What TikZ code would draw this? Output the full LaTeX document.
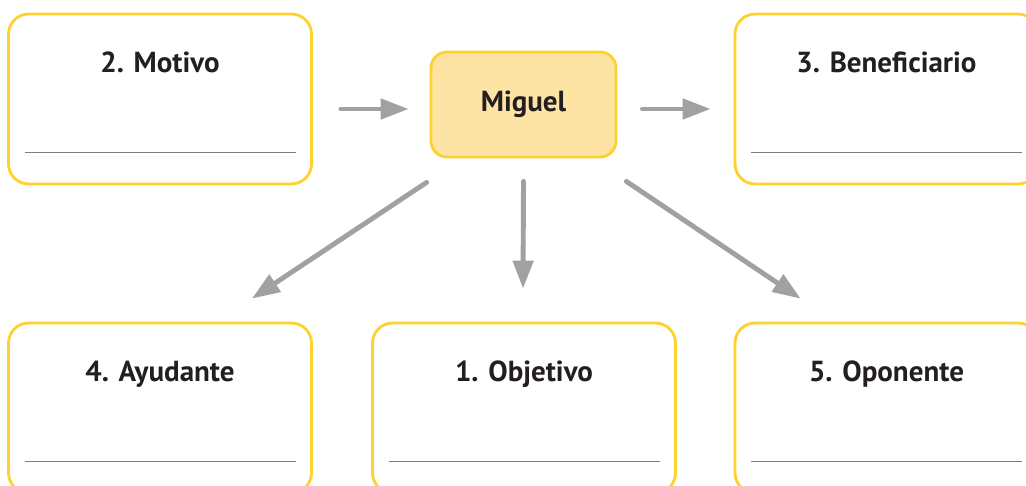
\documentclass[tikz,border=0pt]{standalone}
\usepackage{fontspec}
\setmainfont{PT Sans}
\usetikzlibrary{arrows.meta,positioning}
\definecolor{boxyellow}{HTML}{FDD22E}
\definecolor{boxfill}{HTML}{FDE3A4}
\definecolor{arrowgray}{HTML}{A1A1A4}
\definecolor{linegray}{HTML}{7F7F7F}
\definecolor{textblack}{HTML}{231F20}
\tikzset{
  roundbox/.style={draw=boxyellow, line width=1.6pt, rounded corners=0.4cm,
    minimum width=6.06cm, minimum height=3.4cm, inner sep=0pt},
  centerbox/.style={draw=boxyellow, fill=boxfill, line width=1.6pt, rounded corners=0.32cm,
    minimum width=3.7cm, minimum height=2.1cm, inner sep=0pt,
    font=\fontsize{16.5}{19}\selectfont\bfseries, text=textblack},
  boxtitle/.style={anchor=base, inner sep=0pt, font=\fontsize{16.5}{19}\selectfont\bfseries, text=textblack},
  writeline/.style={draw=linegray, line width=0.85pt},
  arr/.style={draw=arrowgray, line width=2.8pt, line cap=round,
    -{Triangle[length=0.56cm,width=0.4cm]}}
}
\begin{document}
\begin{tikzpicture}[x=0.02cm,y=-0.02cm]
      \clip (0,0) rectangle (1026,486);
      \node[roundbox] (motivo) at (160,99) {};
      \node[roundbox] (beneficiario) at (886.5,99) {};
      \node[roundbox] (ayudante) at (160,408) {};
      \node[roundbox] (objetivo) at (524,408) {};
      \node[roundbox] (oponente) at (886.5,408) {};
      \node[centerbox] (miguel) at (523.5,104.5) {Miguel};
      \node[boxtitle] (motivot) at ([shift={(0,60)}]motivo.north) {2. Motivo};
      \node[boxtitle] (beneficiariot) at ([shift={(0,60)}]beneficiario.north) {3. Beneficiario};
      \node[boxtitle] (ayudantet) at ([shift={(0,59.5)}]ayudante.north) {4. Ayudante};
      \node[boxtitle] (objetivot) at ([shift={(0,59.5)}]objetivo.north) {1. Objetivo};
      \node[boxtitle] (oponentet) at ([shift={(0,59.5)}]oponente.north) {5. Oponente};
      \foreach \b in {motivo,beneficiario,ayudante,objetivo,oponente}
        \draw[writeline] ([shift={(17.5,140)}]\b.north west) -- ([shift={(-17,140)}]\b.north east);
      \draw[arr] ([shift={(28,4.5)}]motivo.east |- miguel.west) -- ([shift={(-21,4.5)}]miguel.west);
      \draw[arr] ([shift={(25,4.5)}]miguel.east) -- ([shift={(-23,4.5)}]beneficiario.west |- miguel.east);
      \draw[arr] ([shift={(-3,24)}]miguel.south west) -- ([shift={(-61,-23)}]ayudante.north east);
      \draw[arr] ([shift={(0,23)}]miguel.south) -- ([shift={(-1,-33)}]objetivo.north);
      \draw[arr] ([shift={(9,23)}]miguel.south east) -- ([shift={(67,-23)}]oponente.north west);
     \end{tikzpicture}
\end{document}
